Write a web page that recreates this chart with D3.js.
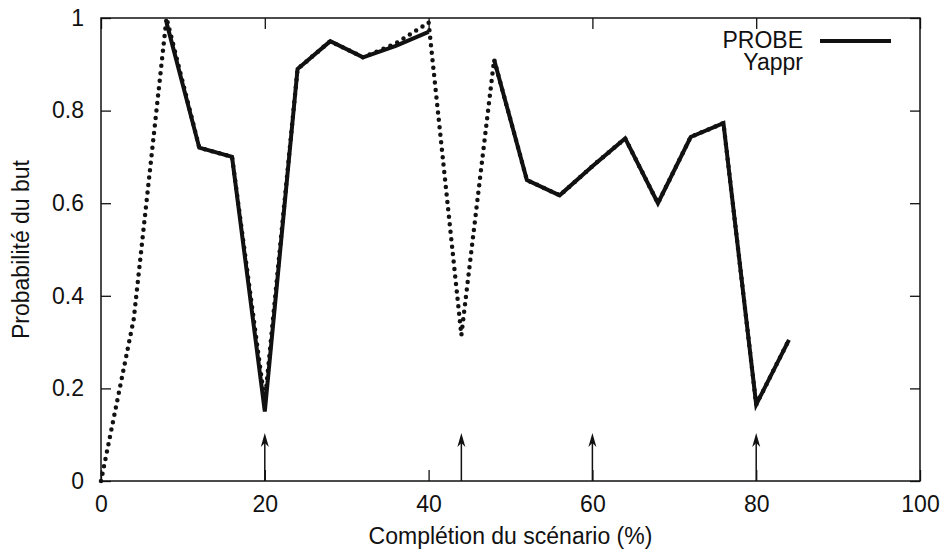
<!DOCTYPE html>
<html>
<head>
<meta charset="utf-8">
<script src="https://cdn.jsdelivr.net/npm/d3@7"></script>
<style>
  body { margin: 0; background: #fff; }
  svg { display: block; font-family: "Liberation Sans", Arial, sans-serif; }
  .axis text { font-size: 23px; fill: #111; }
  .axis line { stroke: #111; stroke-width: 1.3; }
</style>
</head>
<body>
<svg width="946" height="556"></svg>
<script>
// completion steps (%)
var steps = [0, 4, 8, 12, 16, 20, 24, 28, 32, 36, 40, 44, 48, 52, 56, 60, 64, 68, 72, 76, 80, 84];
// PROBE (solid), null = no point
var probe = [null, null, 0.99, 0.72, 0.70, 0.15, 0.89, 0.95, 0.915, 0.94, 0.97, null,
             0.91, 0.65, 0.617, 0.68, 0.74, 0.60, 0.743, 0.773, 0.165, 0.305];
// Yappr (dotted)
var yappr = [0, 0.35, 1.0, 0.72, 0.70, 0.17, 0.89, 0.95, 0.915, 0.945, 0.99, 0.315,
             0.91, 0.65, 0.617, 0.68, 0.74, 0.60, 0.743, 0.773, 0.165, 0.305];
// arrows under the curve
var arrowsAt = [20, 44, 60, 80];
var xTicks = [0, 20, 40, 60, 80, 100];
var yTicks = [0, 0.2, 0.4, 0.6, 0.8, 1];

var svg = d3.select("svg");
var pLeft = 101, pRight = 920, pTop = 18, pBottom = 481;

var x = d3.scaleLinear().domain([0, 100]).range([pLeft, pRight]);
var y = d3.scaleLinear().domain([0, 1]).range([pBottom, pTop]);

var fmt = d3.format("~g");

// axes, ticks inward
svg.append("g").attr("class", "axis")
    .attr("transform", "translate(" + pLeft + ",0)")
    .call(d3.axisLeft(y).tickValues(yTicks).tickFormat(fmt)
        .tickSizeInner(-10).tickSizeOuter(0).tickPadding(17));
svg.append("g").attr("class", "axis")
    .attr("transform", "translate(" + pRight + ",0)")
    .call(d3.axisRight(y).tickValues(yTicks).tickFormat("")
        .tickSizeInner(-10).tickSizeOuter(0));
svg.append("g").attr("class", "axis")
    .attr("transform", "translate(0," + pBottom + ")")
    .call(d3.axisBottom(x).tickValues(xTicks).tickFormat(fmt)
        .tickSizeInner(-11).tickSizeOuter(0).tickPadding(15));
svg.append("g").attr("class", "axis")
    .attr("transform", "translate(0," + pTop + ")")
    .call(d3.axisTop(x).tickValues(xTicks).tickFormat("")
        .tickSizeInner(-11).tickSizeOuter(0));
svg.selectAll(".axis .domain").remove();

svg.append("rect")
    .attr("x", pLeft).attr("y", pTop)
    .attr("width", pRight - pLeft).attr("height", pBottom - pTop)
    .attr("fill", "none").attr("stroke", "#111").attr("stroke-width", 1.5);

// axis titles
svg.append("text")
    .attr("x", (pLeft + pRight) / 2).attr("y", 544)
    .attr("text-anchor", "middle")
    .style("font-size", "23px").attr("fill", "#111")
    .text("Complétion du scénario (%)");
svg.append("text")
    .attr("transform", "translate(29," + ((pTop + pBottom) / 2) + ") rotate(-90)")
    .attr("text-anchor", "middle")
    .style("font-size", "23px").attr("fill", "#111")
    .text("Probabilité du but");

// lines
var line = function(vals) {
    return d3.line()
        .defined(function(d, i) { return vals[i] != null; })
        .x(function(d) { return x(d); })
        .y(function(d, i) { return y(vals[i]); })(steps);
};

svg.append("path")
    .attr("d", line(yappr))
    .attr("fill", "none").attr("stroke", "#111")
    .attr("stroke-width", 4.5).attr("stroke-linecap", "round")
    .attr("stroke-dasharray", "0,7.5");

svg.append("path")
    .attr("d", line(probe))
    .attr("fill", "none").attr("stroke", "#111")
    .attr("stroke-width", 4).attr("stroke-linejoin", "miter");

// arrows
var arr = svg.append("g").selectAll("g").data(arrowsAt).enter().append("g");
arr.append("line")
    .attr("x1", function(d) { return x(d); }).attr("x2", function(d) { return x(d); })
    .attr("y1", pBottom).attr("y2", 440)
    .attr("stroke", "#111").attr("stroke-width", 1.5);
arr.append("path")
    .attr("d", function(d) {
        var cx = x(d);
        return "M" + cx + ",433 L" + (cx - 4) + ",447 L" + cx + ",443 L" + (cx + 4) + ",447 Z";
    })
    .attr("fill", "#111");

// legend
var leg = svg.append("g");
leg.append("text").attr("x", 803).attr("y", 48).attr("text-anchor", "end")
    .style("font-size", "23px").attr("fill", "#111").text("PROBE");
leg.append("line").attr("x1", 820).attr("x2", 891).attr("y1", 41).attr("y2", 41)
    .attr("stroke", "#111").attr("stroke-width", 4);
leg.append("text").attr("x", 803).attr("y", 70).attr("text-anchor", "end")
    .style("font-size", "23px").attr("fill", "#111").text("Yappr");
</script>
</body>
</html>
